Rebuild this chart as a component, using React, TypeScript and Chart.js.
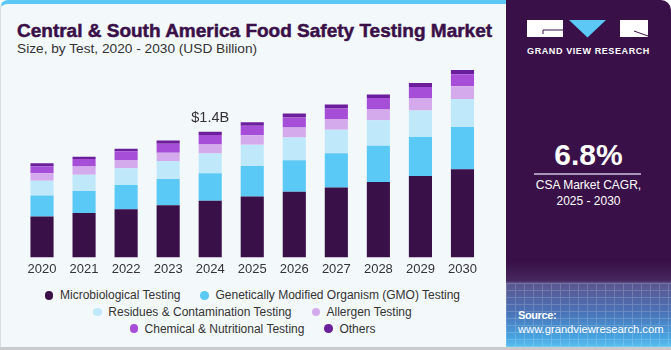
import React, { useEffect, useRef } from "react";
import { Chart, registerables } from "chart.js";

Chart.register(...registerables);

const YEARS = ["2020", "2021", "2022", "2023", "2024", "2025", "2026", "2027", "2028", "2029", "2030"];
const MICROBIOLOGICAL = [0.455, 0.495, 0.538, 0.582, 0.63, 0.68, 0.731, 0.778, 0.84, 0.906, 0.983];
const GMO = [0.236, 0.245, 0.27, 0.291, 0.309, 0.338, 0.353, 0.382, 0.404, 0.437, 0.469];
const RESIDUES = [0.164, 0.181, 0.186, 0.2, 0.218, 0.237, 0.251, 0.262, 0.284, 0.295, 0.313];
const ALLERGEN = [0.084, 0.092, 0.091, 0.092, 0.102, 0.106, 0.114, 0.12, 0.12, 0.134, 0.142];
const CHEMICAL = [0.073, 0.083, 0.098, 0.102, 0.106, 0.105, 0.109, 0.117, 0.128, 0.128, 0.134];
const OTHERS = [0.036, 0.026, 0.029, 0.036, 0.036, 0.04, 0.047, 0.044, 0.039, 0.044, 0.047];

const SERIES_NAMES = [
  "Microbiological Testing",
  "Genetically Modified Organism (GMO) Testing",
  "Residues & Contamination Testing",
  "Allergen Testing",
  "Chemical & Nutritional Testing",
  "Others",
];
const SERIES_VALUES = [MICROBIOLOGICAL, GMO, RESIDUES, ALLERGEN, CHEMICAL, OTHERS];
const SERIES_COLORS = ["#3a1049", "#5bc9f5", "#bfe9fa", "#d5aaed", "#a64ed8", "#6c1f9c"];
const LEGEND_ROWS = [[0, 1], [2, 3], [4, 5]];

const ANNOTATED_INDEX = 4;
const ANNOTATION_TEXT = "$1.4B";

const TITLE = "Central & South America Food Safety Testing Market";
const SUBTITLE = "Size, by Test, 2020 - 2030 (USD Billion)";
const CAGR = "6.8%";
const CAGR_LINE1 = "CSA Market CAGR,";
const CAGR_LINE2 = "2025 - 2030";

const FONT = '"Liberation Sans", Arial, sans-serif';

const annotationPlugin = {
  id: "annotation",
  afterDatasetsDraw(chart: any) {
    const { ctx, scales } = chart;
    const total = SERIES_VALUES.reduce((s, arr) => s + arr[ANNOTATED_INDEX], 0);
    const x = scales.x.getPixelForValue(ANNOTATED_INDEX);
    const y = scales.y.getPixelForValue(total);
    ctx.save();
    ctx.font = `14.5px ${FONT}`;
    ctx.fillStyle = "#333333";
    ctx.textAlign = "center";
    ctx.textBaseline = "alphabetic";
    ctx.fillText(ANNOTATION_TEXT, x, y - 10);
    ctx.restore();
  },
};

function BarChart() {
  const ref = useRef<HTMLCanvasElement>(null);
  useEffect(() => {
    if (!ref.current) return;
    const chart = new Chart(ref.current, {
      type: "bar",
      data: {
        labels: YEARS,
        datasets: SERIES_NAMES.map((name, i) => ({
          label: name,
          data: SERIES_VALUES[i],
          backgroundColor: SERIES_COLORS[i],
          borderWidth: 0,
          categoryPercentage: 0.55,
          barPercentage: 1.0,
        })),
      },
      options: {
        animation: false,
        responsive: false,
        devicePixelRatio: 1,
        layout: { padding: { top: 0, left: 21, right: 21.5, bottom: 0 } },
        plugins: { legend: { display: false }, tooltip: { enabled: false } },
        scales: {
          x: {
            stacked: true,
            grid: { display: false, drawTicks: false },
            border: { display: false },
            ticks: { color: "#333333", font: { family: FONT, size: 13 }, padding: 4 },
          },
          y: { stacked: true, display: false, min: 0, max: 2.2 },
        },
      },
      plugins: [annotationPlugin],
    });
    return () => chart.destroy();
  }, []);
  return (
    <canvas
      ref={ref}
      width={505}
      height={221}
      style={{ position: "absolute", left: 0, top: 60, width: 505, height: 221 }}
    />
  );
}

export default function App() {
  return (
    <div style={{ position: "relative", width: 671, height: 350, background: "#ffffff", overflow: "hidden", fontFamily: FONT }}>
      <style>{`body{margin:0}`}</style>
      {/* left panel */}
      <div
        style={{
          position: "absolute",
          left: 0,
          top: 0,
          width: 512,
          height: 347,
          background: "#f3f8fb",
          borderTop: "4px solid #5bc8f5",
          borderLeft: "1px solid #d6dde3",
          borderTopLeftRadius: 8,
          boxSizing: "border-box",
        }}
      />
      <div style={{ position: "absolute", left: 0, top: 347, width: 671, height: 3, background: "#c9cbcd" }} />
      {/* title */}
      <div
        style={{
          position: "absolute",
          left: 17,
          top: 20.5,
          fontSize: 19,
          lineHeight: "19px",
          fontWeight: 700,
          color: "#3a1049",
          whiteSpace: "nowrap",
          WebkitTextStroke: "0.5px #3a1049",
        }}
      >
        {TITLE}
      </div>
      <div
        style={{
          position: "absolute",
          left: 17,
          top: 41.5,
          fontSize: 13.7,
          lineHeight: "14px",
          color: "#333333",
          whiteSpace: "nowrap",
        }}
      >
        {SUBTITLE}
      </div>
      <BarChart />
      {/* legend */}
      <div style={{ position: "absolute", left: 0, top: 287, width: 505 }}>
        {LEGEND_ROWS.map((row, ri) => (
          <div
            key={ri}
            style={{ display: "flex", justifyContent: "center", height: 16.7, alignItems: "center", gap: 20 }}
          >
            {row.map((si) => (
              <div key={si} style={{ display: "flex", alignItems: "center" }}>
                <span
                  style={{
                    display: "inline-block",
                    width: 8.5,
                    height: 8.5,
                    borderRadius: "50%",
                    background: SERIES_COLORS[si],
                    marginRight: 6.5,
                  }}
                />
                <span style={{ fontSize: 12, color: "#333333", whiteSpace: "nowrap" }}>{SERIES_NAMES[si]}</span>
              </div>
            ))}
          </div>
        ))}
      </div>
      {/* right panel */}
      <div
        style={{
          position: "absolute",
          left: 506,
          top: 0,
          width: 165,
          height: 347,
          background: "#3a1048",
          borderTopRightRadius: 10,
          overflow: "hidden",
        }}
      >
        <div
          style={{
            position: "absolute",
            left: 0,
            top: 262,
            width: 165,
            height: 85,
            background:
              "linear-gradient(to bottom, #3a1048 0%, #46285f 22%, #5a5690 25%, #4a73b8 60%, #48a6e2 90%, #5cc0ef 100%)",
          }}
        />
        <div
          style={{
            position: "absolute",
            left: 0,
            top: 283,
            width: 165,
            height: 64,
            opacity: 0.18,
            background:
              "repeating-linear-gradient(90deg, rgba(255,255,255,0.9) 0px, rgba(255,255,255,0.9) 1px, transparent 1px, transparent 9px), repeating-linear-gradient(0deg, rgba(255,255,255,0.9) 0px, rgba(255,255,255,0.9) 1px, transparent 1px, transparent 7px)",
          }}
        />
        {/* logo */}
        <svg style={{ position: "absolute", left: 0, top: 0 }} width={165} height={60}>
          <rect x={21} y={20} width={36} height={17} fill="#ffffff" />
          <path d="M37 34 L37 30 L57 30" stroke="#3a1048" strokeWidth={1} fill="none" />
          <polygon points="63,20 100,20 81.5,37.5" fill="#5bc8f5" />
          <rect x={114} y={20} width={28} height={17} fill="#ffffff" />
          <path d="M128 31 L142 36" stroke="#3a1048" strokeWidth={1} fill="none" />
        </svg>
        <div
          style={{
            position: "absolute",
            left: 0,
            width: 165,
            top: 46,
            textAlign: "center",
            color: "#ffffff",
            fontSize: 9,
            fontWeight: 700,
            letterSpacing: 0.6,
            lineHeight: "10px",
            whiteSpace: "nowrap",
          }}
        >
          GRAND VIEW RESEARCH
        </div>
        <div
          style={{
            position: "absolute",
            left: 0,
            width: 165,
            top: 139,
            textAlign: "center",
            color: "#ffffff",
            fontSize: 30,
            fontWeight: 700,
            lineHeight: "32px",
          }}
        >
          {CAGR}
        </div>
        <div style={{ position: "absolute", left: 28, top: 173, width: 107, height: 1.5, background: "#a995b8" }} />
        <div
          style={{
            position: "absolute",
            left: 0,
            width: 165,
            top: 177,
            textAlign: "center",
            color: "#ffffff",
            fontSize: 12,
            lineHeight: "16px",
          }}
        >
          {CAGR_LINE1}
          <br />
          {CAGR_LINE2}
        </div>
        <div
          style={{
            position: "absolute",
            left: 12,
            top: 308,
            color: "#ffffff",
            fontSize: 11,
            fontWeight: 700,
            letterSpacing: -0.4,
            lineHeight: "14px",
          }}
        >
          Source:
        </div>
        <div
          style={{
            position: "absolute",
            left: 12,
            top: 322,
            color: "#ffffff",
            fontSize: 11.2,
            lineHeight: "14px",
            whiteSpace: "nowrap",
          }}
        >
          www.grandviewresearch.com
        </div>
      </div>
    </div>
  );
}
